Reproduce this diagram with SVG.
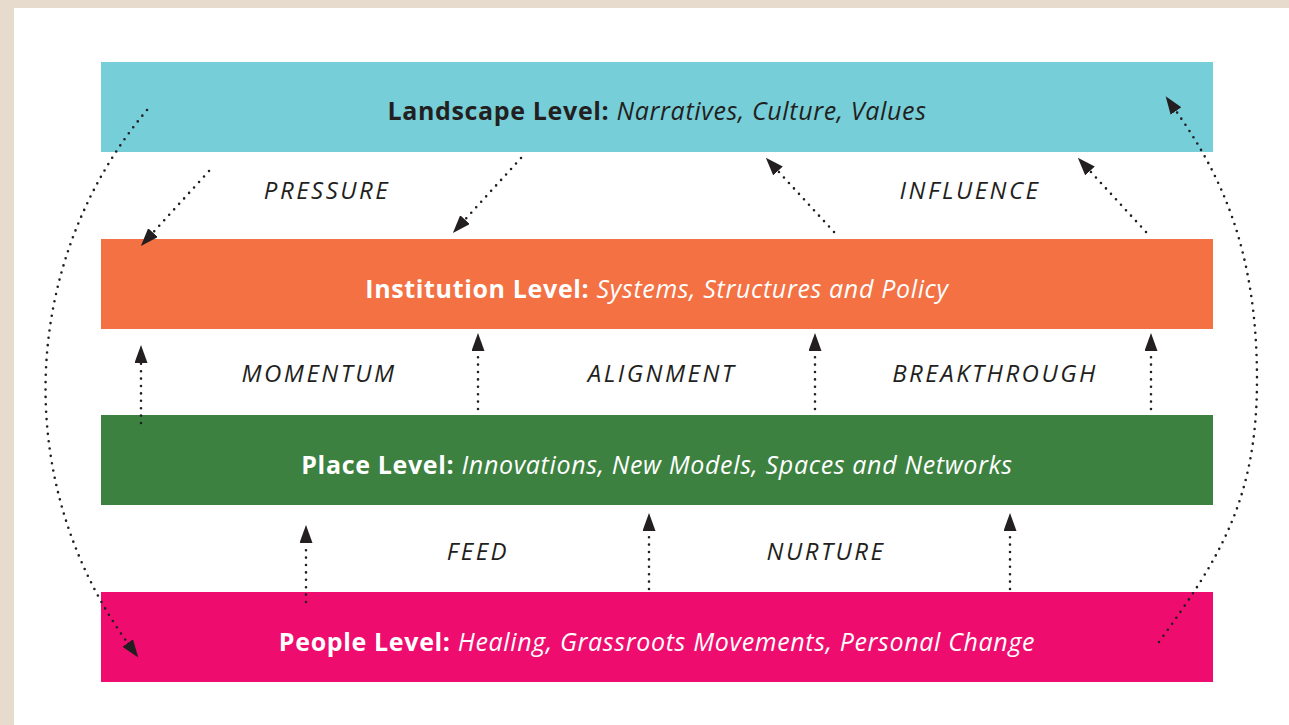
<svg xmlns="http://www.w3.org/2000/svg" width="1289" height="725" viewBox="0 0 1289 725">
  <style>
    .band-title { font-family: "Open Sans", Lato, "Liberation Sans", sans-serif; font-size: 25px; letter-spacing: 0.65px; text-anchor: middle; }
    .band-title .lead { font-weight: bold; font-style: normal; }
    .band-title .desc { font-style: italic; }
    .dark { fill: #231f20; }
    .light { fill: #ffffff; }
    .flow-label { font-family: "Open Sans", Lato, "Liberation Sans", sans-serif; font-size: 24px; font-style: italic; letter-spacing: 2.5px; fill: #231f20; text-anchor: middle; }
    .dots { fill: none; stroke: #231f20; stroke-width: 2.6; stroke-linecap: round; stroke-dasharray: 0 7.4; marker-end: url(#head); }
  </style>
  <defs>
    <marker id="head" markerUnits="userSpaceOnUse" markerWidth="20" markerHeight="14" refX="0" refY="6.5" orient="auto">
      <path d="M0,0 L18,6.5 L0,13 z" fill="#231f20"/>
    </marker>
  </defs>

  <!-- page frame -->
  <rect x="0" y="0" width="1289" height="725" fill="#e6dbcd"/>
  <rect x="14" y="8" width="1275" height="717" fill="#ffffff"/>

  <!-- level bands -->
  <g id="landscape">
    <rect x="101" y="62" width="1112" height="90" fill="#76ced8"/>
    <text class="band-title dark" x="657" y="120"><tspan class="lead">Landscape Level:</tspan> <tspan class="desc">Narratives, Culture, Values</tspan></text>
  </g>
  <g id="institution">
    <rect x="101" y="239" width="1112" height="90" fill="#f37143"/>
    <text class="band-title light" x="657" y="298"><tspan class="lead">Institution Level:</tspan> <tspan class="desc">Systems, Structures and Policy</tspan></text>
  </g>
  <g id="place">
    <rect x="101" y="415" width="1112" height="90" fill="#3c813f"/>
    <text class="band-title light" x="657" y="474"><tspan class="lead">Place Level:</tspan> <tspan class="desc">Innovations, New Models, Spaces and Networks</tspan></text>
  </g>
  <g id="people">
    <rect x="101" y="592" width="1112" height="90" fill="#ee0c6e"/>
    <text class="band-title light" x="657" y="651"><tspan class="lead">People Level:</tspan> <tspan class="desc">Healing, Grassroots Movements, Personal Change</tspan></text>
  </g>

  <!-- connectors -->
  <g id="connectors">
    <!-- pressure: landscape down to institution -->
    <path class="dots" d="M209,171 L153,232.6"/>
    <path class="dots" d="M521,158 L465,219.6"/>
    <!-- influence: institution up to landscape -->
    <path class="dots" d="M834,232 L778,171"/>
    <path class="dots" d="M1146,232 L1090,171"/>
    <!-- place up to institution -->
    <path class="dots" d="M141,423 L141,363"/>
    <path class="dots" d="M478,409 L478,351"/>
    <path class="dots" d="M815,409 L815,351"/>
    <path class="dots" d="M1151,409 L1151,351"/>
    <!-- people up to place -->
    <path class="dots" d="M306,602 L306,543"/>
    <path class="dots" d="M649,589 L649,531"/>
    <path class="dots" d="M1010,589 L1010,531"/>
    <!-- outer loops -->
    <path class="dots" d="M147,110 A434,434 0 0 0 127.7,643"/>
    <path class="dots" d="M1159,642 C1219,559 1257,500 1257,380 C1257,250 1221,175 1176,111"/>
  </g>

  <!-- flow labels -->
  <g id="labels">
    <text class="flow-label" x="327" y="199">PRESSURE</text>
    <text class="flow-label" x="970" y="199">INFLUENCE</text>
    <text class="flow-label" x="319" y="382">MOMENTUM</text>
    <text class="flow-label" x="662" y="382">ALIGNMENT</text>
    <text class="flow-label" x="995" y="382">BREAKTHROUGH</text>
    <text class="flow-label" x="478" y="560">FEED</text>
    <text class="flow-label" x="826" y="560">NURTURE</text>
  </g>
</svg>
